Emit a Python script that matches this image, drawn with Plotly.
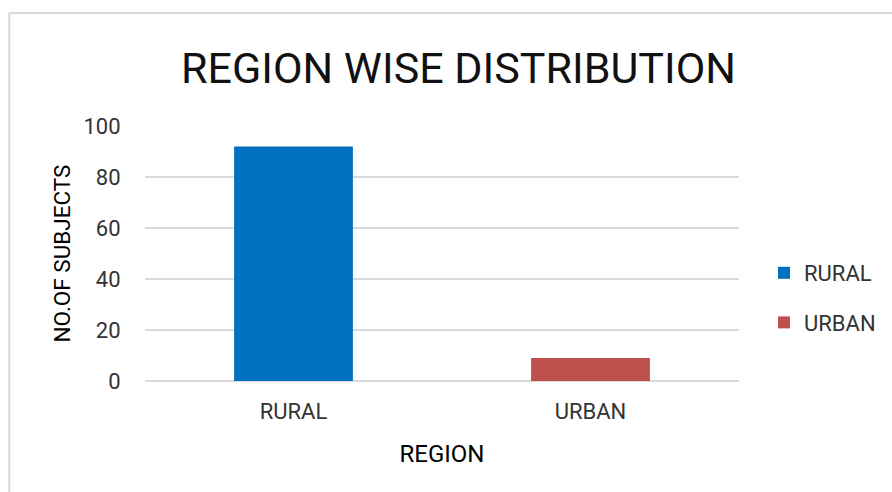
import plotly.graph_objects as go

# Region-wise distribution of subjects
categories = ["RURAL", "URBAN"]
rural_counts = [92, None]
urban_counts = [None, 9]
y_ticks = [0, 20, 40, 60, 80, 100]

W, H = 892, 492
L, R, T, B = 145, 152, 126, 111
pw, ph = W - L - R, H - T - B

font_family = "Roboto, Arial, sans-serif"

fig = go.Figure()
fig.add_trace(go.Bar(
    x=categories, y=rural_counts, name="RURAL", width=0.4,
    marker=dict(color="#0070C0", line=dict(width=0)),
    legendgroup="rural",
))
fig.add_trace(go.Bar(
    x=categories, y=urban_counts, name="URBAN", width=0.4,
    marker=dict(color="#C0504D", line=dict(width=0)),
    legendgroup="urban",
))

def px_x(x):
    return (x - L) / pw

def px_y(y):
    return 1 - (y - T) / ph

# light chart frame
fig.add_shape(type="line", xref="paper", yref="paper",
              x0=px_x(9), x1=px_x(W + 20), y0=px_y(13), y1=px_y(13),
              line=dict(color="#d9d9d9", width=2))
fig.add_shape(type="line", xref="paper", yref="paper",
              x0=px_x(9), x1=px_x(9), y0=px_y(13), y1=px_y(H + 20),
              line=dict(color="#d9d9d9", width=2))

fig.update_layout(
    width=W, height=H,
    margin=dict(l=L, r=R, t=T, b=B, pad=0),
    paper_bgcolor="white", plot_bgcolor="white",
    barmode="overlay",
    font=dict(family=font_family, color="#333333", size=22),
    title=dict(
        text="REGION WISE DISTRIBUTION",
        font=dict(family=font_family, size=43, color="#111111"),
        x=px_x(459), xref="paper", xanchor="center",
        y=1 - 68 / H, yref="container", yanchor="middle",
    ),
    xaxis=dict(
        type="category", showgrid=False, showline=False, zeroline=False,
        ticks="outside", ticklen=11, tickcolor="rgba(0,0,0,0)",
        tickfont=dict(size=22, color="#333333"),
        title=dict(text="REGION", standoff=21,
                   font=dict(size=24, color="#000000")),
    ),
    yaxis=dict(
        range=[0, 100], tickvals=y_ticks, showgrid=True,
        gridcolor="#d9d9d9", gridwidth=1.5,
        zeroline=True, zerolinecolor="#d9d9d9", zerolinewidth=1.5,
        showline=False,
        ticks="outside", ticklen=19, tickcolor="rgba(0,0,0,0)",
        tickfont=dict(size=22, color="#333333"),
        title=dict(text="NO.OF SUBJECTS", standoff=6,
                   font=dict(size=22.5, color="#000000")),
    ),
    legend=dict(
        x=px_x(764), y=px_y(252), xanchor="left", yanchor="top",
        font=dict(size=22, color="#333333"),
        tracegroupgap=18, bgcolor="rgba(0,0,0,0)",
    ),
    showlegend=True,
)

fig.write_html("out.html")
